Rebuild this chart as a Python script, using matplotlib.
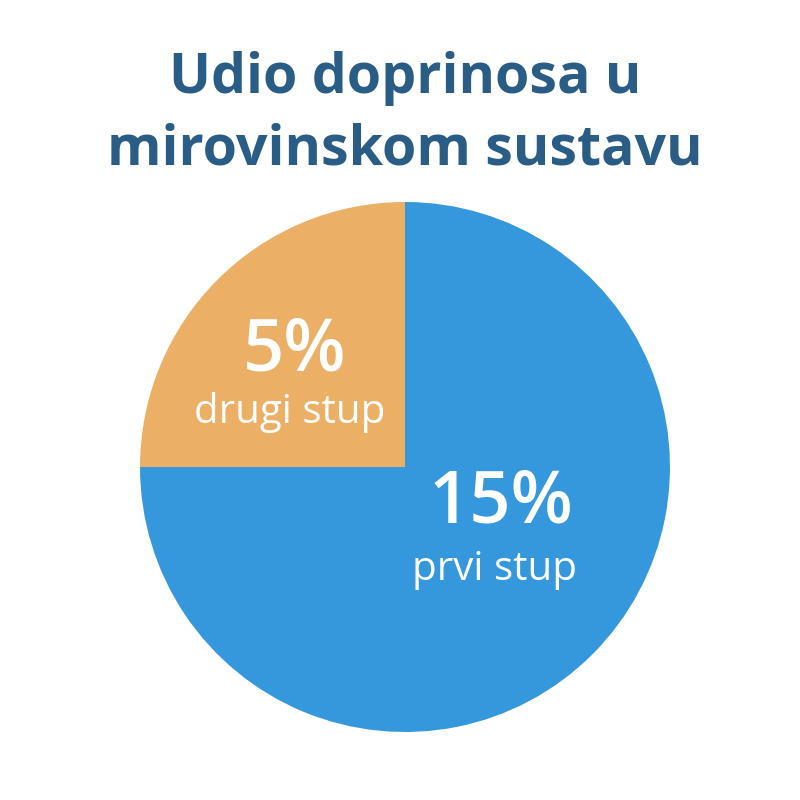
import matplotlib
matplotlib.use("Agg")
import matplotlib.pyplot as plt

title = "Udio doprinosa u\nmirovinskom sustavu"
labels = ["drugi stup", "prvi stup"]
values = [5, 15]
colors = ["#ebaf66", "#3698dc"]

plt.rcParams["font.family"] = ["Open Sans", "DejaVu Sans"]

fig = plt.figure(figsize=(8, 8), dpi=100)
fig.patch.set_facecolor("white")

ax = fig.add_axes([0.175, 0.085, 0.6625, 0.6625])
ax.pie(values, colors=colors, startangle=90, counterclock=True, radius=1,
       wedgeprops={"linewidth": 0})
ax.set_xlim(-1, 1)
ax.set_ylim(-1, 1)
ax.set_aspect("equal")
ax.axis("off")

# label positions relative to pie centre
pct_pos = [(-0.415, 0.434), (0.362, -0.136)]
name_pos = [(-0.434, 0.204), (0.336, -0.389)]
for pp, npos, lab, v in zip(pct_pos, name_pos, labels, values):
    ax.text(pp[0], pp[1], f"{v}%", ha="center", va="center", color="white",
            fontsize=52, fontweight="semibold")
    ax.text(npos[0], npos[1], lab, ha="center", va="center", color="white",
            fontsize=29, fontweight="medium")

fig.text(0.506, 0.857, title, ha="center", va="center", color="#2a5d86",
         fontsize=40, fontweight="bold", linespacing=1.38)

fig.savefig("out.png", dpi=100)
